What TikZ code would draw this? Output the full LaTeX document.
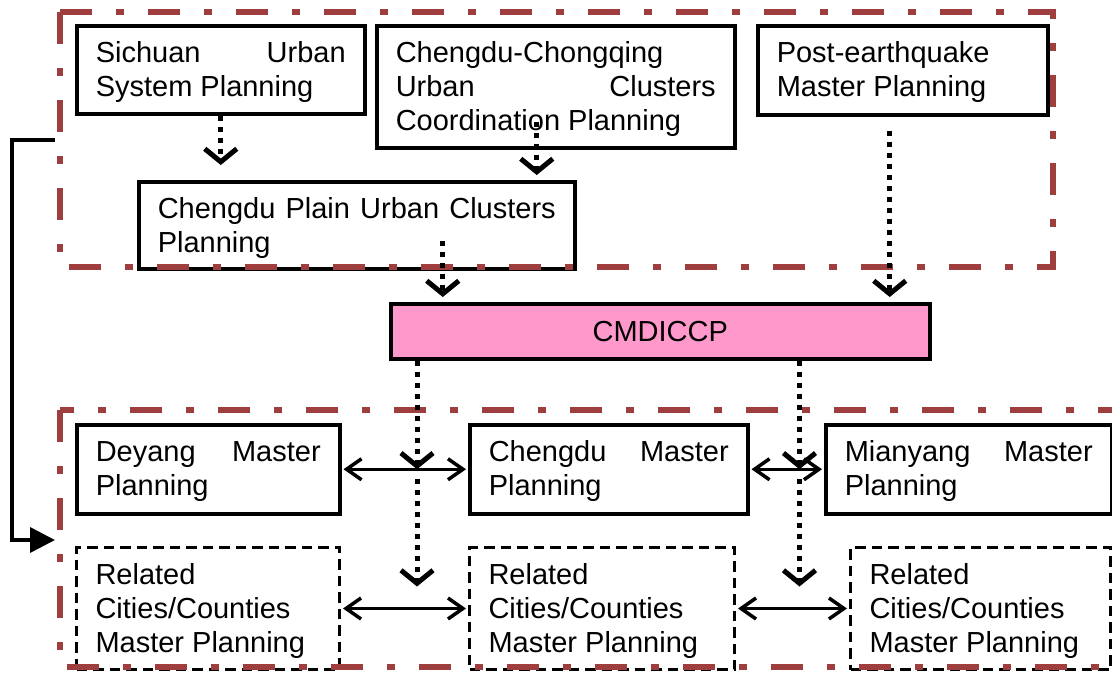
\documentclass[tikz,border=0pt]{standalone}
\usepackage{fontspec}
\setmainfont{Liberation Sans}
\usetikzlibrary{arrows.meta}

\definecolor{framered}{RGB}{158,62,62}
\definecolor{cmdpink}{RGB}{255,153,204}

% loose justified lines, no hyphens
\tolerance=10000 \hbadness=10000
\hyphenpenalty=10000 \exhyphenpenalty=10000

\tikzset{
  plan/.style={draw, line width=3.5pt, anchor=north west, inner xsep=19pt,
    inner ysep=0pt, align=justify, text height=37pt},
  related/.style={plan, line width=3pt, dash pattern=on 10.5pt off 6pt},
  frame/.style={draw=framered, line width=6pt,
    dash pattern=on 32pt off 24pt on 8pt off 24pt},
  dotarrow/.style={line width=5pt, dash pattern=on 5pt off 6pt,
    -{Straight Barb[length=13pt,width=32pt]}},
  twoway/.style={line width=3.5pt, shorten <=2pt, shorten >=2pt,
    {Straight Barb[length=15pt,width=21pt]}-{Straight Barb[length=15pt,width=21pt]}},
  feed/.style={line width=3.5pt, -{Triangle[length=25pt,width=25pt]}}
}

\begin{document}
\begin{tikzpicture}[x=1pt, y=-1pt, every node/.style={font=\fontsize{29}{34}\selectfont}]

    \useasboundingbox (0,0) rectangle (1112,673);
    \clip (0,0) rectangle (1112,673);

    % Upper level plans
    \node[plan, text width=250pt, text depth=51pt] (sich) at (75,24)
        {Sichuan Urban System Planning};
    \node[plan, text width=320pt, text depth=85pt] (ccq) at (375,24)
        {Chengdu-Chongqing Urban Clusters Coordination Planning};
    \node[plan, text width=252pt, text depth=52pt] (post) at (756,24)
        {Post-earthquake Master Planning};
    \node[plan, text width=398pt, text depth=50pt] (plain) at (137,180)
        {Chengdu Plain Urban Clusters Planning};

    % The coordination plan itself
    \node[draw, line width=3.5pt, fill=cmdpink, anchor=north west, inner sep=0pt,
        minimum width=539pt, minimum height=55pt] (cmd) at (389,302) {CMDICCP};

    % City master plans
    \node[plan, text width=225pt, text depth=52pt] (dey) at (75,423)
        {Deyang Master Planning};
    \node[plan, text width=240pt, text depth=52pt] (cd) at (468,423)
        {Chengdu Master Planning};
    \node[plan, text width=248pt, text depth=52pt] (mian) at (824,423)
        {Mianyang Master Planning};

    % Related cities and counties
    \node[related, text width=225pt, text depth=85pt] (rel1) at (75,546)
        {Related Cities/Counties Master Planning};
    \node[related, text width=227pt, text depth=85pt] (rel2) at (468,546)
        {Related Cities/Counties Master Planning};
    \node[related, text width=222pt, text depth=85pt] (rel3) at (849,546)
        {Related Cities/Counties Master Planning};

    % Dash-dot frames round the two levels
    \draw[frame] (60,12) -- (1053,12) -- (1053,267) -- (60,267) -- cycle;
    \draw[frame] (60,410) -- (60,667) -- (1130,667) -- (1130,410) -- cycle;

    % Arrows into the plain cluster plan
    \draw[dotarrow, shorten >=15pt] (sich.south) -- (sich.south |- plain.north);
    \coordinate (p0) at ([xshift=-19pt, yshift=28pt]ccq.south);
    \draw[dotarrow, shorten >=5pt] (p0) -- (p0 |- plain.north);

    % Arrows into CMDICCP
    \coordinate (p1) at ([xshift=86pt, yshift=30pt]plain.south);
    \draw[dotarrow, shorten >=5pt] (p1) -- (p1 |- cmd.north);
    \coordinate (p2) at ([xshift=-13pt]post.south);
    \draw[dotarrow, shorten <=14pt, shorten >=5pt] (p2) -- (p2 |- cmd.north);

    % Arrows down from CMDICCP
    \coordinate (c1) at ([xshift=28pt]cmd.south west);
    \coordinate (c2) at ([xshift=-132pt]cmd.south east);
    \draw[dotarrow] (c1) -- (c1 |- dey.east);
    \draw[dotarrow, shorten <=10pt, shorten >=22pt] (c1 |- dey.east) -- (c1 |- rel1.east);
    \draw[dotarrow] (c2) -- (c2 |- mian.west);
    \draw[dotarrow, shorten <=10pt, shorten >=22pt] (c2 |- mian.west) -- (c2 |- rel3.west);

    % Links between neighbouring plans
    \draw[twoway] (dey) -- (cd);
    \draw[twoway] (cd) -- (mian);
    \draw[twoway] (rel1) -- (rel2);
    \draw[twoway] (rel2) -- (rel3);

    % Upper level feeds the related plans
    \coordinate (upout) at (55,140);
    \coordinate (lowin) at (55,540);
    \draw[feed] (upout) -- ++(-43,0) |- (lowin);

\end{tikzpicture}
\end{document}
